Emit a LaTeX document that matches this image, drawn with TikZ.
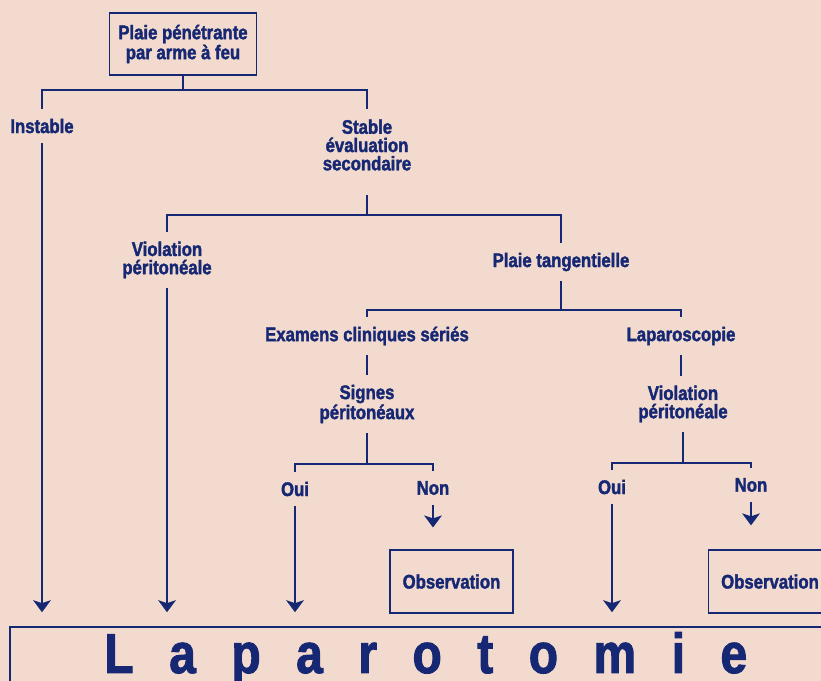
\documentclass[tikz,border=0pt]{standalone}
\usepackage{fontspec}
\setmainfont{Liberation Sans}[FakeStretch=0.85, BoldFeatures={FakeBold=1.8}]
\usetikzlibrary{%
  arrows.meta,%
  positioning,%
  calc%
}
\definecolor{navy}{RGB}{22,40,115}
\definecolor{peach}{RGB}{243,218,206}

\begin{document}
\begin{tikzpicture}
[x=0.025cm, y=-0.025cm, color=navy, line width=1.4pt,
font=\bfseries\fontsize{14}{13}\selectfont,
>={Stealth[width=12.5pt,length=8.5pt,inset=2pt]},
lbl/.style={align=center, inner xsep=2pt, inner ysep=6.5pt},
frame/.style={rectangle, draw, line width=1pt, align=center, inner sep=0pt},
obsbox/.style={frame, minimum width=87.5pt, minimum height=44.8pt}]

\useasboundingbox (0,0) rectangle (821,681);
\clip (0,0) rectangle (821,681);
\fill[peach] (0,0) rectangle (821,681);

% haut de l'arbre
\node[frame, minimum width=104.5pt, minimum height=44pt] (wound) at (183,44) {Plaie pénétrante\\par arme à feu};
\node[lbl] (instable) at (42,126) {Instable};
\node[lbl] (stable) at (367,145) {Stable\\évaluation\\secondaire};
\node[lbl] (viol1) at (167,260) {Violation\\péritonéale};
\node[lbl] (tang) at (561,262) {Plaie tangentielle};
\node[lbl] (exam) at (367,336) {Examens cliniques sériés};
\node[lbl] (laparo) at (681,336) {Laparoscopie};
\node[lbl] (signes) at (367,404) {Signes\\péritonéaux};
\node[lbl] (viol2) at (683,404) {Violation\\péritonéale};
\node[lbl] (oui1) at (295,489) {Oui};
\node[lbl] (non1) at (433,488) {Non};
\node[lbl] (oui2) at (612,487) {Oui};
\node[lbl] (non2) at (751,485) {Non};

\node[obsbox] (obs1) at (451.5,581.5) {Observation};
\node[obsbox] (obs2) at (770,581.5) {Observation};

% cadre coupé par le bord de la page
\node[anchor=north west, inner sep=0pt, minimum width=590pt, text height=32pt, text depth=5pt,
  font=\bfseries\fontsize{40}{40}\selectfont] (lapa) at (10,627)
  {\makebox[457pt][s]{L\hfill a\hfill p\hfill a\hfill r\hfill o\hfill t\hfill o\hfill m\hfill i\hfill e}};
\draw[line width=1pt] (lapa.south west) -- (lapa.north west) -- (lapa.north east);

% embranchements
\foreach \p/\l/\r/\y/\s in {wound/instable/stable/90/0, stable/viol1/tang/215/10.5,
  tang/exam/laparo/310/0, signes/oui1/non1/464/0, viol2/oui2/non2/463/0} {
  \draw[shorten <=\s pt] (\p.south) -- (\p.south |- 0,\y);
  \draw (\l.north) -- (\l.north |- 0,\y) -- (\r.north |- 0,\y) -- (\r.north);
}

\draw (exam.south) -- (exam.south |- signes.north);
\draw (laparo.south) -- (laparo.south |- viol2.north);

% vers la laparotomie
\foreach \n in {instable, viol1, oui1, oui2} {
  \draw[->, shorten >=10.5pt] (\n.south) -- (\n.south |- lapa.north);
}

% vers l'observation
\draw[->, shorten >=15.5pt] (non1.south) -- (non1.south |- obs1.north);
\draw[->, shorten >=17pt] (non2.south) -- (non2.south |- obs2.north);
\end{tikzpicture}
\end{document}
